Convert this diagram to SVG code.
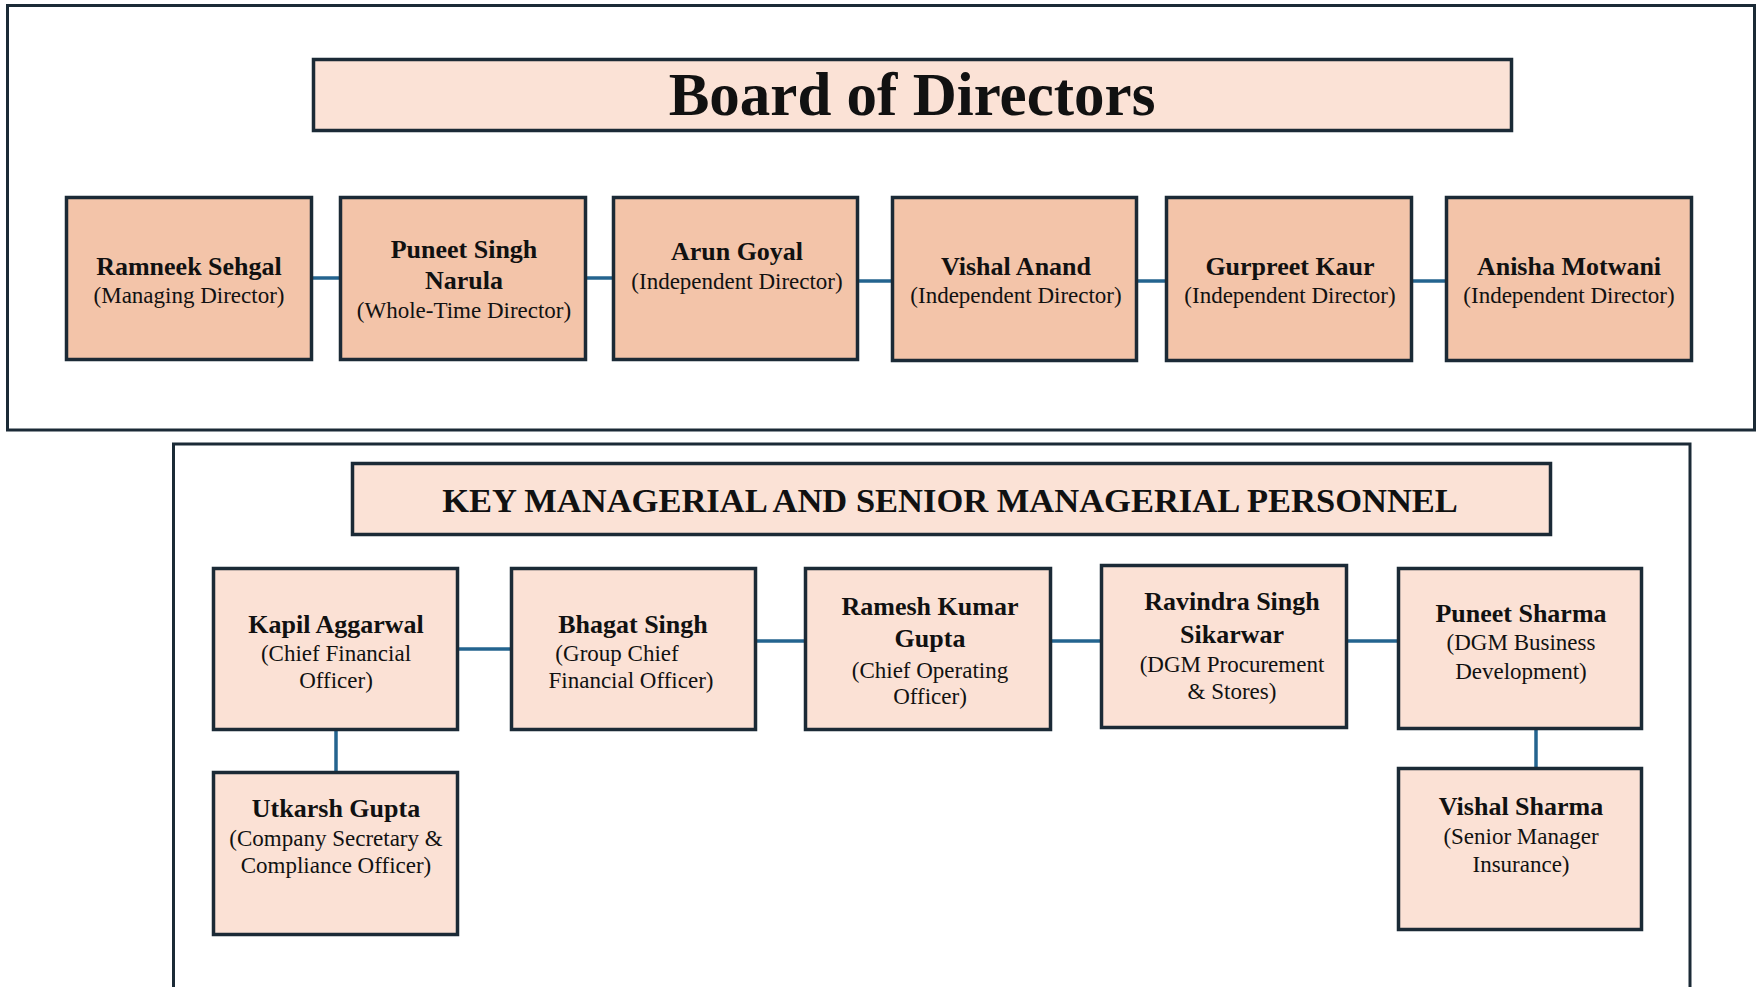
<svg xmlns="http://www.w3.org/2000/svg" width="1757" height="987" viewBox="0 0 1757 987">
<style>
.frame{fill:none;stroke:#1b2a36;stroke-width:3}
.title{fill:#fbe2d6;stroke:#1b2a36;stroke-width:3.5}
.dir{fill:#f3c4a9;stroke:#1b2a36;stroke-width:3.5}
.kmp{fill:#fbe1d5;stroke:#1b2a36;stroke-width:3.5}
.conn{stroke:#24648f;stroke-width:3.5;fill:none}
text{font-family:"Liberation Serif","Times New Roman",serif;fill:#111;text-anchor:middle}
.nm{font-weight:bold;font-size:26px}
.sb{font-size:23px}
.h1{font-weight:bold;font-size:61px}
.h2{font-weight:bold;font-size:34.5px}
</style>
<rect x="0" y="0" width="1757" height="987" fill="#ffffff"/>
<rect class="frame" x="7.5" y="5.5" width="1747" height="424.5"/>
<rect class="frame" x="173.5" y="444" width="1516.5" height="600"/>

<g id="connectors">
<line class="conn" x1="313" y1="278" x2="339" y2="278"/>
<line class="conn" x1="587" y1="278" x2="612" y2="278"/>
<line class="conn" x1="859" y1="281" x2="891" y2="281"/>
<line class="conn" x1="1138" y1="281" x2="1165" y2="281"/>
<line class="conn" x1="1413" y1="281" x2="1445" y2="281"/>
<line class="conn" x1="459" y1="649" x2="510" y2="649"/>
<line class="conn" x1="757" y1="641" x2="804" y2="641"/>
<line class="conn" x1="1052" y1="641" x2="1100" y2="641"/>
<line class="conn" x1="1348" y1="641" x2="1397" y2="641"/>
<line class="conn" x1="336" y1="731" x2="336" y2="771"/>
<line class="conn" x1="1536" y1="730" x2="1536" y2="767"/>
</g>

<g id="board-title">
<rect class="title" x="313.5" y="59.5" width="1198" height="71"/>
<text class="h1" x="912" y="115">Board of Directors</text>
</g>

<g id="d1">
<rect class="dir" x="66.5" y="197.5" width="245" height="162"/>
<text class="nm" x="189" y="275">Ramneek Sehgal</text>
<text class="sb" x="189" y="303">(Managing Director)</text>
</g>
<g id="d2">
<rect class="dir" x="340.5" y="197.5" width="245" height="162"/>
<text class="nm" x="464" y="258">Puneet Singh</text>
<text class="nm" x="464" y="289">Narula</text>
<text class="sb" x="464" y="318">(Whole-Time Director)</text>
</g>
<g id="d3">
<rect class="dir" x="613.5" y="197.5" width="244" height="162"/>
<text class="nm" x="737" y="260">Arun Goyal</text>
<text class="sb" x="737" y="289">(Independent Director)</text>
</g>
<g id="d4">
<rect class="dir" x="892.5" y="197.5" width="244" height="163"/>
<text class="nm" x="1016" y="275">Vishal Anand</text>
<text class="sb" x="1016" y="303">(Independent Director)</text>
</g>
<g id="d5">
<rect class="dir" x="1166.5" y="197.5" width="245" height="163"/>
<text class="nm" x="1290" y="275">Gurpreet Kaur</text>
<text class="sb" x="1290" y="303">(Independent Director)</text>
</g>
<g id="d6">
<rect class="dir" x="1446.5" y="197.5" width="245" height="163"/>
<text class="nm" x="1569" y="275">Anisha Motwani</text>
<text class="sb" x="1569" y="303">(Independent Director)</text>
</g>

<g id="kmp-title">
<rect class="title" x="352.5" y="463.5" width="1198" height="71"/>
<text class="h2" x="950" y="512">KEY MANAGERIAL AND SENIOR MANAGERIAL PERSONNEL</text>
</g>

<g id="k1">
<rect class="kmp" x="213.5" y="568.5" width="244" height="161"/>
<text class="nm" x="336" y="633">Kapil Aggarwal</text>
<text class="sb" x="336" y="661">(Chief Financial</text>
<text class="sb" x="336" y="688">Officer)</text>
</g>
<g id="k2">
<rect class="kmp" x="511.5" y="568.5" width="244" height="161"/>
<text class="nm" x="633" y="633">Bhagat Singh</text>
<text class="sb" x="617" y="661">(Group Chief</text>
<text class="sb" x="631" y="688">Financial Officer)</text>
</g>
<g id="k3">
<rect class="kmp" x="805.5" y="568.5" width="245" height="161"/>
<text class="nm" x="930" y="615">Ramesh Kumar</text>
<text class="nm" x="930" y="647">Gupta</text>
<text class="sb" x="930" y="678">(Chief Operating</text>
<text class="sb" x="930" y="704">Officer)</text>
</g>
<g id="k4">
<rect class="kmp" x="1101.5" y="565.5" width="245" height="162"/>
<text class="nm" x="1232" y="610">Ravindra Singh</text>
<text class="nm" x="1232" y="643">Sikarwar</text>
<text class="sb" x="1232" y="672">(DGM Procurement</text>
<text class="sb" x="1232" y="699">&amp; Stores)</text>
</g>
<g id="k5">
<rect class="kmp" x="1398.5" y="568.5" width="243" height="160"/>
<text class="nm" x="1521" y="622">Puneet Sharma</text>
<text class="sb" x="1521" y="650">(DGM Business</text>
<text class="sb" x="1521" y="679">Development)</text>
</g>
<g id="k6">
<rect class="kmp" x="213.5" y="772.5" width="244" height="162"/>
<text class="nm" x="336" y="817">Utkarsh Gupta</text>
<text class="sb" x="336" y="846">(Company Secretary &amp;</text>
<text class="sb" x="336" y="873">Compliance Officer)</text>
</g>
<g id="k7">
<rect class="kmp" x="1398.5" y="768.5" width="243" height="161"/>
<text class="nm" x="1521" y="815">Vishal Sharma</text>
<text class="sb" x="1521" y="844">(Senior Manager</text>
<text class="sb" x="1521" y="872">Insurance)</text>
</g>
</svg>
